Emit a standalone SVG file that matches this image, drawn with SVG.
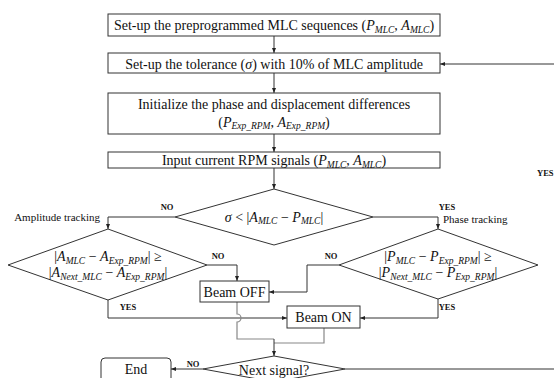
<svg xmlns="http://www.w3.org/2000/svg" width="554" height="378" viewBox="0 0 554 378">
<style>
.t{font-family:'Liberation Serif','DejaVu Serif','Times New Roman',serif;font-size:14px;fill:#111}
.sm{font-size:11px}
.i{font-style:italic}
.s{font-size:9.5px;font-style:italic}
.lab{font-family:'Liberation Serif','DejaVu Serif','Times New Roman',serif;font-size:8.5px;font-weight:bold;fill:#111}
.box{fill:#fff;stroke:#333;stroke-width:1}
.c{fill:none;stroke:#333;stroke-width:1}
.g{fill:none;stroke:#888;stroke-width:1.2}
</style>
<defs>
<marker id="ah" viewBox="0 0 10 10" refX="10" refY="5" markerWidth="5" markerHeight="5" orient="auto">
<path d="M0,1 L10,5 L0,9 z" fill="#222"/>
</marker>
</defs>
<g id="connectors">
<path class="c" d="M274,36 V53" marker-end="url(#ah)"/>
<path class="c" d="M554,64 H440" marker-end="url(#ah)"/>
<path class="c" d="M274,73 V93" marker-end="url(#ah)"/>
<path class="c" d="M274,134 V152" marker-end="url(#ah)"/>
<path class="c" d="M274,168 V189" marker-end="url(#ah)"/>
<path class="c" d="M175,217 H108 V229" marker-end="url(#ah)"/>
<path class="c" d="M373,217 H438 V229" marker-end="url(#ah)"/>
<path class="c" d="M207,265 H237 V281" marker-end="url(#ah)"/>
<path class="c" d="M339,265 H307 V292 H269" marker-end="url(#ah)"/>
<path class="c" d="M108,300 V318 H287" marker-end="url(#ah)"/>
<path class="c" d="M438,299 V318 H360" marker-end="url(#ah)"/>
<path class="g" d="M237,302 V314 a4,4 0 0 1 0,8 V339 H274"/>
<path class="g" d="M324,328 V343 H274"/>
<path class="c" d="M274,339 V356" marker-end="url(#ah)"/>
<path class="c" d="M345,369 H554"/>
<path class="c" d="M203,369 H171" marker-end="url(#ah)"/>
</g>
<g id="n1"><rect class="box" x="108" y="14" width="332" height="22"/>
<text class="t" x="274" y="30" text-anchor="middle">Set-up the preprogrammed MLC sequences (<tspan class="i">P</tspan><tspan class="s" dy="2.5">MLC</tspan><tspan dy="-2.5">, </tspan><tspan class="i">A</tspan><tspan class="s" dy="2.5">MLC</tspan><tspan dy="-2.5">)</tspan></text></g>
<g id="n2"><rect class="box" x="108" y="53" width="332" height="20"/>
<text class="t" x="274" y="68.5" text-anchor="middle">Set-up the tolerance (<tspan class="i">σ</tspan>) with 10% of MLC amplitude</text></g>
<g id="n3"><rect class="box" x="108" y="93" width="332" height="41"/>
<text class="t" x="274" y="108.5" text-anchor="middle">Initialize the phase and displacement differences</text>
<text class="t" x="274" y="126.5" text-anchor="middle">(<tspan class="i">P</tspan><tspan class="s" dy="2.5">Exp_RPM</tspan><tspan dy="-2.5">, </tspan><tspan class="i">A</tspan><tspan class="s" dy="2.5">Exp_RPM</tspan><tspan dy="-2.5">)</tspan></text></g>
<g id="n4"><rect class="box" x="108" y="152" width="332" height="16"/>
<text class="t" x="274" y="165" text-anchor="middle">Input current RPM signals (<tspan class="i">P</tspan><tspan class="s" dy="2.5">MLC</tspan><tspan dy="-2.5">, </tspan><tspan class="i">A</tspan><tspan class="s" dy="2.5">MLC</tspan><tspan dy="-2.5">)</tspan></text></g>
<g id="d1"><polygon class="box" points="274,189 373,217 274,245 175,217"/>
<text class="t" x="274" y="221.5" text-anchor="middle"><tspan class="i">σ</tspan> &lt; |<tspan class="i">A</tspan><tspan class="s" dy="2.5">MLC</tspan><tspan dy="-2.5"> − </tspan><tspan class="i">P</tspan><tspan class="s" dy="2.5">MLC</tspan><tspan dy="-2.5">|</tspan></text></g>
<g id="d2"><polygon class="box" points="108,229 207,265 108,300 8,265"/>
<text class="t" x="108" y="261" text-anchor="middle">|<tspan class="i">A</tspan><tspan class="s" dy="2.5">MLC</tspan><tspan dy="-2.5"> − </tspan><tspan class="i">A</tspan><tspan class="s" dy="2.5">Exp_RPM</tspan><tspan dy="-2.5">| ≥</tspan></text>
<text class="t" x="108" y="277" text-anchor="middle">|<tspan class="i">A</tspan><tspan class="s" dy="2.5">Next_MLC</tspan><tspan dy="-2.5"> − </tspan><tspan class="i">A</tspan><tspan class="s" dy="2.5">Exp_RPM</tspan><tspan dy="-2.5">|</tspan></text></g>
<g id="d3"><polygon class="box" points="438,229 538,265 438,299 339,265"/>
<text class="t" x="438" y="261" text-anchor="middle">|<tspan class="i">P</tspan><tspan class="s" dy="2.5">MLC</tspan><tspan dy="-2.5"> − </tspan><tspan class="i">P</tspan><tspan class="s" dy="2.5">Exp_RPM</tspan><tspan dy="-2.5">| ≥</tspan></text>
<text class="t" x="438" y="277" text-anchor="middle">|<tspan class="i">P</tspan><tspan class="s" dy="2.5">Next_MLC</tspan><tspan dy="-2.5"> − </tspan><tspan class="i">P</tspan><tspan class="s" dy="2.5">Exp_RPM</tspan><tspan dy="-2.5">|</tspan></text></g>
<g id="beamoff"><rect class="box" x="200" y="281" width="69" height="21"/>
<text class="t" x="234.5" y="296.5" text-anchor="middle">Beam OFF</text></g>
<g id="beamon"><rect class="box" x="287" y="306" width="73" height="22"/>
<text class="t" x="323.5" y="321.5" text-anchor="middle">Beam ON</text></g>
<g id="d4"><polygon class="box" points="274,356 345,369 274,382 203,369"/>
<text class="t" x="274" y="374.5" text-anchor="middle">Next signal?</text></g>
<g id="end"><rect class="box" x="101" y="358" width="70" height="30" rx="4"/>
<text class="t" x="136" y="374" text-anchor="middle">End</text></g>
<g id="labels">
<text class="t sm" x="100" y="221" text-anchor="end">Amplitude tracking</text>
<text class="t sm" x="443" y="223">Phase tracking</text>
<text class="lab" x="167" y="210" text-anchor="middle">NO</text>
<text class="lab" x="447" y="210" text-anchor="middle">YES</text>
<text class="lab" x="218" y="259" text-anchor="middle">NO</text>
<text class="lab" x="331" y="259" text-anchor="middle">NO</text>
<text class="lab" x="128" y="310" text-anchor="middle">YES</text>
<text class="lab" x="447" y="310" text-anchor="middle">YES</text>
<text class="lab" x="193" y="367" text-anchor="middle">NO</text>
<text class="lab" x="537" y="176">YES</text>
</g>
</svg>
